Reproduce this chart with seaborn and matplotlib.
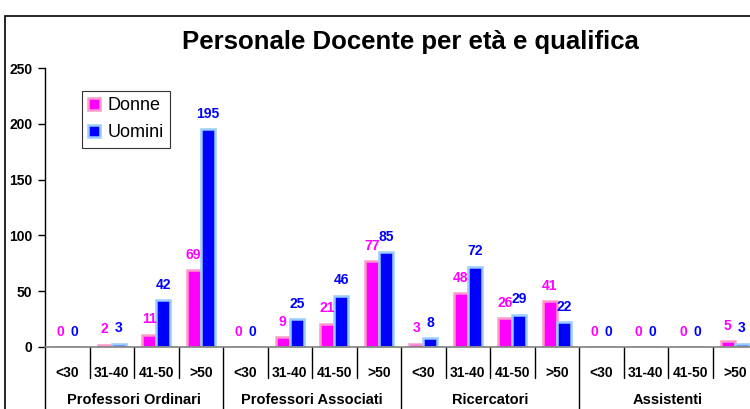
import matplotlib
matplotlib.use("Agg")
import matplotlib.pyplot as plt
import matplotlib.transforms as mtransforms
from matplotlib.patches import Rectangle, Patch
import seaborn as sns
import pandas as pd

groups = ["Professori Ordinari", "Professori Associati", "Ricercatori", "Assistenti"]
ages = ["<30", "31-40", "41-50", ">50"]
donne = [0, 2, 11, 69, 0, 9, 21, 77, 3, 48, 26, 41, 0, 0, 0, 5]
uomini = [0, 3, 42, 195, 0, 25, 46, 85, 8, 72, 29, 22, 0, 0, 0, 3]
series = ["Donne", "Uomini"]

slots = [f"{g}|{a}" for g in groups for a in ages]
df = pd.DataFrame({
    "slot": slots * 2,
    "sesso": ["Donne"] * 16 + ["Uomini"] * 16,
    "valore": donne + uomini,
})

sns.set_theme(style="white")
plt.rcParams["font.family"] = ["Liberation Sans", "DejaVu Sans"]
plt.rcParams.update({"text.color": "black", "axes.labelcolor": "black",
                     "xtick.color": "black", "ytick.color": "black"})

fig = plt.figure(figsize=(7.5, 4.09), dpi=100)
W, H = 750, 409
ax = fig.add_axes([45 / W, (H - 347) / H, (757 - 45) / W, (347 - 68) / H])

fill = {"Donne": "#FF00FF", "Uomini": "#0000FF"}
edge = {"Donne": "#FF99CC", "Uomini": "#99CCFF"}
sns.barplot(data=df, x="slot", y="valore", hue="sesso", order=slots,
            hue_order=series, palette=fill, width=0.63, ax=ax,
            legend=False, saturation=1, linewidth=0)

for cont, s in zip(ax.containers, series):
    for bar in cont:
        bar.set_edgecolor(edge[s])
        bar.set_linewidth(1.8)
    ax.bar_label(cont, labels=[str(v) for v in (donne if s == "Donne" else uomini)],
                 padding=6, color=fill[s], fontsize=10, fontweight="bold")

ax.set_xlim(-0.5, 15.5)
ax.set_ylim(0, 250)
ax.set_yticks([0, 50, 100, 150, 200, 250])
ax.set_yticklabels(["0", "50", "100", "150", "200", "250"], fontsize=10,
                   fontweight="bold")
ax.tick_params(axis="y", direction="out", length=5, width=1, color="black", pad=4, left=True)
ax.set_xticks(range(16))
ax.set_xticklabels(ages * 4, fontsize=10, fontweight="bold")
ax.tick_params(axis="x", length=0, pad=14)
ax.set_xlabel("")
ax.set_ylabel("")
for sp in ["top", "right"]:
    ax.spines[sp].set_visible(False)
ax.spines["bottom"].set_color("#808080")
ax.spines["bottom"].set_linewidth(1.2)
ax.spines["left"].set_color("black")
ax.spines["left"].set_linewidth(1.0)

trans = mtransforms.blended_transform_factory(ax.transData, ax.transAxes)
ph = 347 - 68
for i in range(0, 16):
    x = i - 0.5
    y1 = -62 / ph if i % 4 == 0 else -31 / ph
    ax.plot([x, x], [0, y1], color="black", lw=1.0, transform=trans, clip_on=False)
for gi, g in enumerate(groups):
    ax.text(gi * 4 + 1.5, -53 / ph, g, transform=trans, ha="center", va="center",
            fontsize=10.5, fontweight="bold", color="black")

fig.text(410 / W, 1 - 42 / H, "Personale Docente per età e qualifica", ha="center",
         va="center", fontsize=18.5, fontweight="bold", color="black")

handles = [Patch(facecolor=fill[s], edgecolor=edge[s], linewidth=1.8) for s in series]
leg = fig.legend(handles, series, loc="upper left", bbox_to_anchor=(82 / W, 1 - 91 / H),
                 fontsize=13, frameon=True, fancybox=False, edgecolor="black",
                 handlelength=0.65, handleheight=0.65, handletextpad=0.4,
                 borderpad=0.35, labelspacing=0.55, borderaxespad=0, labelcolor="black")
leg.get_frame().set_linewidth(0.8)

fig.patches.append(Rectangle((5 / W, -0.1), 1.2, 1 - 16 / H + 0.1, transform=fig.transFigure,
                             fill=False, edgecolor="black", linewidth=1.2))

fig.savefig("out.png", dpi=100)
